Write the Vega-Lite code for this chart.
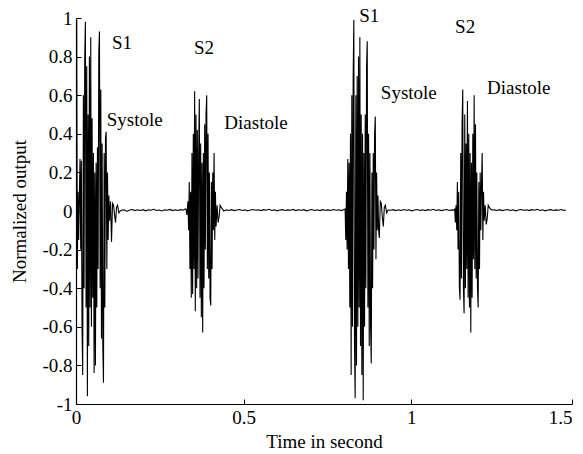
{
  "$schema": "https://vega.github.io/schema/vega-lite/v6.json",
  "autosize": {"type": "none"},
  "padding": {"left": 76, "top": 18, "right": 11, "bottom": 50},
  "width": 496,
  "height": 386,
  "background": "white",
  "config": {
    "view": {"stroke": null},
    "axis": {
      "domainColor": "black", "domainWidth": 1.2, "tickColor": "black", "tickWidth": 1,
      "labelColor": "black", "titleColor": "black", "grid": false,
      "labelFont": "Liberation Serif", "titleFont": "Liberation Serif",
      "labelFontSize": 19, "titleFontSize": 19, "titleFontWeight": "normal",
      "labelOverlap": false
    }
  },
  "datasets": {
    "wave": [
      {"t":0.000,"v":0.0},{"t":0.002,"v":0.99},{"t":0.004,"v":-0.3},{"t":0.006,"v":0.1},{"t":0.008,"v":-0.15},{"t":0.010,"v":0.08},{"t":0.012,"v":0.27},{"t":0.014,"v":-0.2},{"t":0.016,"v":0.26},{"t":0.018,"v":-0.6},{"t":0.020,"v":-0.85},{"t":0.022,"v":0.6},{"t":0.024,"v":-0.4},{"t":0.026,"v":0.78},{"t":0.028,"v":0.98},{"t":0.030,"v":-0.5},{"t":0.032,"v":0.75},{"t":0.034,"v":-0.96},{"t":0.036,"v":0.5},{"t":0.038,"v":-0.7},{"t":0.040,"v":0.8},{"t":0.042,"v":-0.5},{"t":0.044,"v":0.90},{"t":0.046,"v":-0.6},{"t":0.048,"v":0.48},{"t":0.050,"v":-0.45},{"t":0.052,"v":0.3},{"t":0.054,"v":-0.84},{"t":0.056,"v":0.2},{"t":0.058,"v":-0.8},{"t":0.060,"v":0.25},{"t":0.062,"v":-0.5},{"t":0.064,"v":0.33},{"t":0.066,"v":-0.3},{"t":0.068,"v":0.82},{"t":0.070,"v":0.93},{"t":0.072,"v":-0.4},{"t":0.074,"v":0.63},{"t":0.076,"v":-0.66},{"t":0.078,"v":0.35},{"t":0.080,"v":-0.7},{"t":0.082,"v":-0.89},{"t":0.084,"v":0.3},{"t":0.086,"v":-0.5},{"t":0.088,"v":0.38},{"t":0.090,"v":0.41},{"t":0.092,"v":-0.3},{"t":0.094,"v":0.2},{"t":0.096,"v":-0.15},{"t":0.098,"v":0.08},{"t":0.100,"v":-0.05},{"t":0.103,"v":0.05},{"t":0.106,"v":-0.16},{"t":0.109,"v":0.04},{"t":0.112,"v":0.03},{"t":0.115,"v":-0.02},{"t":0.118,"v":-0.06},{"t":0.121,"v":0.02},{"t":0.124,"v":0.03},{"t":0.128,"v":-0.01},{"t":0.132,"v":0.0},
      {"t":0.136,"v":0.004},{"t":0.144,"v":0.006},{"t":0.152,"v":-0.002},{"t":0.160,"v":0.005},{"t":0.168,"v":0.008},{"t":0.176,"v":0.002},{"t":0.184,"v":0.006},{"t":0.192,"v":0.003},{"t":0.200,"v":0.007},{"t":0.208,"v":0.001},{"t":0.216,"v":0.006},{"t":0.224,"v":0.004},{"t":0.232,"v":0.009},{"t":0.240,"v":0.003},{"t":0.248,"v":0.005},{"t":0.256,"v":0.000},{"t":0.264,"v":0.006},{"t":0.272,"v":0.004},{"t":0.280,"v":0.008},{"t":0.288,"v":0.002},{"t":0.296,"v":0.006},{"t":0.304,"v":0.003},{"t":0.312,"v":0.007},{"t":0.320,"v":0.004},{"t":0.325,"v":0.01},
      {"t":0.328,"v":0.01},{"t":0.331,"v":-0.02},{"t":0.334,"v":0.05},{"t":0.336,"v":-0.1},{"t":0.338,"v":0.15},{"t":0.340,"v":-0.3},{"t":0.342,"v":0.1},{"t":0.344,"v":-0.45},{"t":0.346,"v":0.3},{"t":0.348,"v":-0.43},{"t":0.350,"v":0.4},{"t":0.352,"v":-0.3},{"t":0.354,"v":0.62},{"t":0.356,"v":-0.52},{"t":0.358,"v":0.5},{"t":0.360,"v":-0.4},{"t":0.362,"v":0.42},{"t":0.364,"v":-0.35},{"t":0.366,"v":0.3},{"t":0.368,"v":0.58},{"t":0.370,"v":-0.45},{"t":0.372,"v":0.35},{"t":0.374,"v":-0.55},{"t":0.376,"v":0.25},{"t":0.378,"v":-0.63},{"t":0.380,"v":0.3},{"t":0.382,"v":-0.4},{"t":0.384,"v":0.45},{"t":0.386,"v":-0.2},{"t":0.388,"v":0.5},{"t":0.390,"v":0.60},{"t":0.392,"v":-0.3},{"t":0.394,"v":0.4},{"t":0.396,"v":-0.35},{"t":0.398,"v":0.2},{"t":0.400,"v":-0.45},{"t":0.402,"v":-0.49},{"t":0.404,"v":0.15},{"t":0.406,"v":-0.3},{"t":0.408,"v":0.2},{"t":0.410,"v":-0.1},{"t":0.412,"v":0.30},{"t":0.414,"v":-0.15},{"t":0.416,"v":0.1},{"t":0.418,"v":-0.08},{"t":0.421,"v":0.03},{"t":0.424,"v":-0.06},{"t":0.427,"v":-0.03},{"t":0.430,"v":0.03},{"t":0.433,"v":0.02},{"t":0.437,"v":0.01},{"t":0.441,"v":0.0},
      {"t":0.448,"v":0.006},{"t":0.456,"v":0.003},{"t":0.464,"v":0.007},{"t":0.472,"v":0.002},{"t":0.480,"v":0.005},{"t":0.488,"v":0.008},{"t":0.496,"v":0.003},{"t":0.504,"v":0.006},{"t":0.512,"v":0.001},{"t":0.520,"v":0.005},{"t":0.528,"v":0.008},{"t":0.536,"v":0.004},{"t":0.544,"v":0.006},{"t":0.552,"v":0.002},{"t":0.560,"v":0.007},{"t":0.568,"v":0.004},{"t":0.576,"v":0.009},{"t":0.584,"v":0.003},{"t":0.592,"v":0.006},{"t":0.600,"v":0.001},{"t":0.608,"v":0.005},{"t":0.616,"v":0.007},{"t":0.624,"v":0.003},{"t":0.632,"v":0.006},{"t":0.640,"v":0.004},{"t":0.648,"v":0.008},{"t":0.656,"v":0.002},{"t":0.664,"v":0.006},{"t":0.672,"v":0.004},{"t":0.680,"v":0.007},{"t":0.688,"v":0.001},{"t":0.696,"v":0.005},{"t":0.704,"v":0.008},{"t":0.712,"v":0.003},{"t":0.720,"v":0.006},{"t":0.728,"v":0.002},{"t":0.736,"v":0.007},{"t":0.744,"v":0.004},{"t":0.752,"v":0.006},{"t":0.760,"v":0.003},{"t":0.768,"v":0.008},{"t":0.776,"v":0.004},{"t":0.784,"v":0.006},{"t":0.792,"v":0.002},{"t":0.799,"v":0.008},
      {"t":0.803,"v":0.01},{"t":0.805,"v":-0.15},{"t":0.807,"v":0.1},{"t":0.809,"v":-0.2},{"t":0.811,"v":0.27},{"t":0.813,"v":-0.3},{"t":0.815,"v":0.25},{"t":0.817,"v":-0.5},{"t":0.819,"v":0.4},{"t":0.821,"v":-0.85},{"t":0.823,"v":0.6},{"t":0.825,"v":-0.6},{"t":0.827,"v":0.69},{"t":0.829,"v":0.99},{"t":0.831,"v":-0.7},{"t":0.833,"v":-0.97},{"t":0.835,"v":0.6},{"t":0.837,"v":-0.8},{"t":0.839,"v":0.7},{"t":0.841,"v":-0.6},{"t":0.843,"v":0.8},{"t":0.845,"v":-0.5},{"t":0.847,"v":0.90},{"t":0.849,"v":-0.7},{"t":0.851,"v":0.5},{"t":0.853,"v":-0.85},{"t":0.855,"v":0.4},{"t":0.857,"v":-0.98},{"t":0.859,"v":0.3},{"t":0.861,"v":-0.6},{"t":0.863,"v":0.5},{"t":0.865,"v":-0.4},{"t":0.867,"v":0.75},{"t":0.869,"v":0.88},{"t":0.871,"v":-0.5},{"t":0.873,"v":0.4},{"t":0.875,"v":-0.7},{"t":0.877,"v":0.3},{"t":0.879,"v":-0.6},{"t":0.881,"v":-0.79},{"t":0.883,"v":0.2},{"t":0.885,"v":-0.4},{"t":0.887,"v":0.3},{"t":0.889,"v":-0.2},{"t":0.891,"v":0.4},{"t":0.893,"v":0.49},{"t":0.895,"v":-0.25},{"t":0.897,"v":0.2},{"t":0.899,"v":-0.1},{"t":0.901,"v":0.08},{"t":0.903,"v":-0.1},{"t":0.905,"v":-0.14},{"t":0.908,"v":0.05},{"t":0.911,"v":0.04},{"t":0.914,"v":-0.03},{"t":0.917,"v":-0.08},{"t":0.920,"v":0.02},{"t":0.923,"v":0.03},{"t":0.927,"v":-0.01},{"t":0.931,"v":0.005},
      {"t":0.938,"v":0.004},{"t":0.946,"v":0.007},{"t":0.954,"v":0.002},{"t":0.962,"v":0.006},{"t":0.970,"v":0.003},{"t":0.978,"v":0.008},{"t":0.986,"v":0.004},{"t":0.994,"v":0.006},{"t":1.002,"v":0.001},{"t":1.010,"v":0.005},{"t":1.018,"v":0.008},{"t":1.026,"v":0.003},{"t":1.034,"v":0.006},{"t":1.042,"v":0.002},{"t":1.050,"v":0.007},{"t":1.058,"v":0.004},{"t":1.066,"v":0.009},{"t":1.074,"v":0.003},{"t":1.082,"v":0.006},{"t":1.090,"v":0.002},{"t":1.098,"v":0.005},{"t":1.106,"v":0.008},{"t":1.114,"v":0.003},{"t":1.122,"v":0.006},{"t":1.127,"v":0.004},
      {"t":1.130,"v":0.01},{"t":1.132,"v":-0.06},{"t":1.134,"v":0.03},{"t":1.136,"v":-0.1},{"t":1.138,"v":0.15},{"t":1.140,"v":-0.2},{"t":1.142,"v":0.1},{"t":1.144,"v":-0.4},{"t":1.146,"v":-0.46},{"t":1.148,"v":0.3},{"t":1.150,"v":-0.35},{"t":1.152,"v":0.45},{"t":1.154,"v":0.63},{"t":1.156,"v":-0.4},{"t":1.158,"v":-0.53},{"t":1.160,"v":0.5},{"t":1.162,"v":-0.4},{"t":1.164,"v":0.35},{"t":1.166,"v":-0.3},{"t":1.168,"v":0.57},{"t":1.170,"v":-0.45},{"t":1.172,"v":0.4},{"t":1.174,"v":-0.5},{"t":1.176,"v":0.3},{"t":1.178,"v":-0.63},{"t":1.180,"v":0.25},{"t":1.182,"v":-0.45},{"t":1.184,"v":0.4},{"t":1.186,"v":-0.25},{"t":1.188,"v":0.60},{"t":1.190,"v":-0.3},{"t":1.192,"v":0.45},{"t":1.194,"v":-0.35},{"t":1.196,"v":0.2},{"t":1.198,"v":-0.4},{"t":1.200,"v":-0.50},{"t":1.202,"v":0.15},{"t":1.204,"v":-0.3},{"t":1.206,"v":0.2},{"t":1.208,"v":-0.1},{"t":1.210,"v":0.15},{"t":1.212,"v":0.30},{"t":1.214,"v":-0.15},{"t":1.216,"v":0.1},{"t":1.218,"v":-0.05},{"t":1.221,"v":0.03},{"t":1.224,"v":-0.07},{"t":1.227,"v":-0.04},{"t":1.230,"v":0.03},{"t":1.233,"v":0.02},{"t":1.237,"v":0.01},{"t":1.241,"v":0.005},
      {"t":1.248,"v":0.006},{"t":1.256,"v":0.003},{"t":1.264,"v":0.007},{"t":1.272,"v":0.002},{"t":1.280,"v":0.005},{"t":1.288,"v":0.008},{"t":1.296,"v":0.003},{"t":1.304,"v":0.006},{"t":1.312,"v":0.001},{"t":1.320,"v":0.005},{"t":1.328,"v":0.008},{"t":1.336,"v":0.004},{"t":1.344,"v":0.006},{"t":1.352,"v":0.002},{"t":1.360,"v":0.007},{"t":1.368,"v":0.004},{"t":1.376,"v":0.009},{"t":1.384,"v":0.003},{"t":1.392,"v":0.006},{"t":1.400,"v":0.001},{"t":1.408,"v":0.005},{"t":1.416,"v":0.007},{"t":1.424,"v":0.003},{"t":1.432,"v":0.006},{"t":1.440,"v":0.004},{"t":1.448,"v":0.008},{"t":1.456,"v":0.003},{"t":1.462,"v":0.005}
    ],
    "notes": [
      {"t":0.137,"v":0.868,"label":"S1"},
      {"t":0.382,"v":0.842,"label":"S2"},
      {"t":0.175,"v":0.474,"label":"Systole"},
      {"t":0.537,"v":0.456,"label":"Diastole"},
      {"t":0.875,"v":1.008,"label":"S1"},
      {"t":1.161,"v":0.951,"label":"S2"},
      {"t":0.993,"v":0.609,"label":"Systole"},
      {"t":1.321,"v":0.635,"label":"Diastole"}
    ]
  },
  "encoding": {
    "x": {
      "field": "t", "type": "quantitative",
      "scale": {"domain": [0, 1.48], "nice": false, "zero": false},
      "axis": {
        "title": "Time in second",
        "values": [0, 0.5, 1, 1.48],
        "labelExpr": "datum.value > 1.4 ? '1.5' : datum.value + ''",
        "labelAlign": {"condition": {"test": "datum.value > 1.4", "value": "right"}, "value": "center"},
        "labelOverlap": false,
        "labelBound": false,
        "tickSize": -5,
        "labelPadding": 9,
        "titlePadding": 5
      }
    },
    "y": {
      "field": "v", "type": "quantitative",
      "scale": {"domain": [-1, 1], "nice": false, "zero": false},
      "axis": {
        "title": "Normalized output",
        "values": [-1, -0.8, -0.6, -0.4, -0.2, 0, 0.2, 0.4, 0.6, 0.8, 1],
        "labelExpr": "datum.value + ''",
        "labelOverlap": false,
        "labelBound": false,
        "labelFlush": false,
        "tickSize": -5,
        "labelPadding": 9,
        "titlePadding": 12
      }
    }
  },
  "layer": [
    {
      "data": {"name": "wave"},
      "mark": {"type": "line", "color": "black", "strokeWidth": 1.1, "clip": true}
    },
    {
      "data": {"name": "notes"},
      "mark": {"type": "text", "font": "Liberation Serif", "fontSize": 19, "color": "black", "align": "center", "baseline": "middle"},
      "encoding": {
        "text": {"field": "label", "type": "nominal"}
      }
    }
  ]
}
